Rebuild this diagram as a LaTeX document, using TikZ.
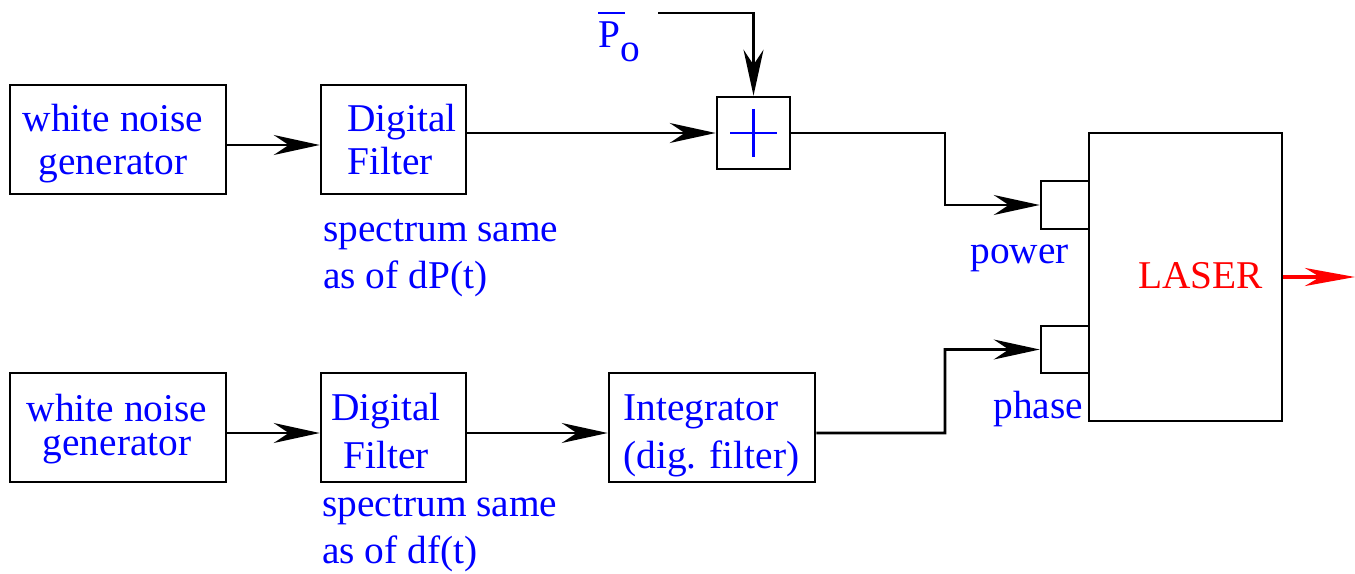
\documentclass[tikz,border=0pt]{standalone}
\usepackage{fontspec}
\setmainfont{Liberation Serif}
\usetikzlibrary{arrows.meta,calc}
\begin{document}
\begin{tikzpicture}[x=0.02cm,y=-0.02cm,
  font=\fontsize{22.4}{26}\selectfont,
  box/.style={draw, line width=1.5pt, inner sep=0pt},
  lbl/.style={text=blue, inner sep=0pt, anchor=base west},
  clbl/.style={text=blue, inner sep=0pt, anchor=base},
  arr/.style={line width=1.5pt, -{Stealth[length=0.92cm,width=0.4cm,inset=0.3cm]}},
  redarr/.style={red, line width=0.08cm, -{Stealth[length=1cm,width=0.36cm,inset=0.3cm]}}]
\useasboundingbox (0,0) rectangle (1355,574);

% upper chain
\node (b1) [box, minimum width=4.32cm, minimum height=2.18cm] at (118,139.5) {};
\node (b1t) [clbl, align=center, font=\fontsize{22.4}{24.5}\selectfont] at (113,175) {white noise\\generator};
\node (f1) [box, minimum width=2.9cm, minimum height=2.18cm] at (393.5,139.5) {};
\node (f1t) [lbl, align=left, font=\fontsize{22.4}{24.5}\selectfont] at (347,175) {Digital\\Filter};
\node (add) [box, minimum width=1.46cm, minimum height=1.44cm] at (753.5,133) {};
\draw[blue, line width=1.5pt] ($(add.center)+(-23.5,0)$) -- ($(add.center)+(23.5,0)$)
  ($(add.center)+(0,-24)$) -- ($(add.center)+(0,24)$);
\node (sp1) [lbl, align=left, font=\fontsize{22.4}{26.2}\selectfont] at (323,288) {spectrum same\\as of dP(t)};
\node (po) [lbl] at (598,48) {\rlap{\raisebox{0.69cm}{\rule{0.54cm}{0.04cm}}}P\raisebox{-0.28cm}{o}};
\coordinate (pos) at (658,13);

% lower chain
\node (b3) [box, minimum width=4.32cm, minimum height=2.18cm] at (118,427.5) {};
\node (b3t) [clbl, align=center, font=\fontsize{22.4}{18.8}\selectfont] at (117,455) {white noise\\generator};
\node (f2) [box, minimum width=2.9cm, minimum height=2.18cm] at (393.5,427.5) {};
\node (f2t) [clbl, align=center, font=\fontsize{22.4}{27.3}\selectfont] at (386,468) {Digital\\Filter};
\node (int) [box, minimum width=4.12cm, minimum height=2.18cm] at (712,427.5) {};
\node (intt) [lbl, align=left, font=\fontsize{22.4}{27.3}\selectfont] at (623,468) {Integrator\\(dig. filter)};
\node (sp2) [lbl, align=left, font=\fontsize{22.4}{26.2}\selectfont] at (322,563) {spectrum same\\as of df(t)};

% laser
\node (laser) [box, minimum width=3.86cm, minimum height=5.76cm] at (1185.5,277) {};
\node (lasertxt) [text=red, inner sep=0pt, anchor=base west] at (1138,288) {LASER};
\node (pp) [box, minimum width=0.96cm, minimum height=0.96cm] at (1065,205) {};
\node (php) [box, minimum width=0.96cm, minimum height=0.94cm] at (1065,349.5) {};
\node (pw) [lbl] at (970,263) {power};
\node (ph) [lbl] at (993,418) {phase};

% connectors
\draw[arr] ($(b1.east)+(0,5.5)$) -- ($(f1.west)+(0,5.5)$);
\draw[arr] (f1.east |- add.west) -- (add.west);
\draw[arr] (pos) -| (add.north);
\draw[arr] (add.east) -- (945,133) |- (pp.west);
\draw[arr] ($(b3.east)+(0,5.5)$) -- ($(f2.west)+(0,5.5)$);
\draw[arr] ($(f2.east)+(0,5.5)$) -- ($(int.west)+(0,5.5)$);
\draw[arr] ($(int.east)+(0,5.5)$) -- (945,433) |- (php.west);
\coordinate (out) at (1355,277);
\draw[redarr] (laser.east) -- (out);
\end{tikzpicture}
\end{document}
